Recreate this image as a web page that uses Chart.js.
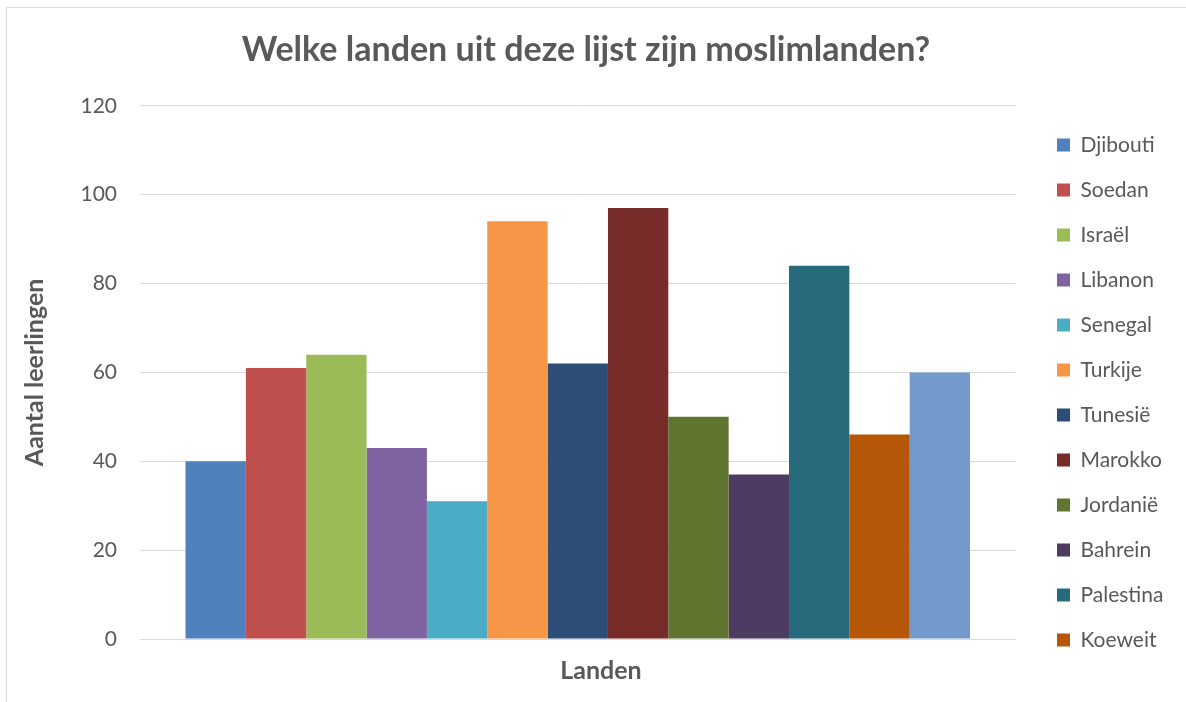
<!DOCTYPE html>
<html>
<head>
<meta charset="utf-8">
<script src="https://cdn.jsdelivr.net/npm/chart.js@4/dist/chart.umd.min.js"></script>
<style>
html,body{margin:0;padding:0;background:#fff;}
#wrap{width:1186px;height:702px;position:relative;}
</style>
</head>
<body>
<div id="wrap"><canvas id="c" width="1186" height="702"></canvas></div>
<script>
const titleText = 'Welke landen uit deze lijst zijn moslimlanden?';
const categories = [''];
const seriesNames = ['Djibouti','Soedan','Israël','Libanon','Senegal','Turkije','Tunesië','Marokko','Jordanië','Bahrein','Palestina','Koeweit',''];
const seriesValues = [40, 61, 64, 43, 31, 94, 62, 97, 50, 37, 84, 46, 60];
const seriesColors = ['#4F81BD','#C0504D','#9BBB59','#8064A2','#4BACC6','#F79646','#2C4D75','#772C2A','#5F7530','#4D3B62','#276A7C','#B65708','#729ACA'];
const yTicks = [0, 20, 40, 60, 80, 100, 120];
const yTitle = 'Aantal leerlingen';
const xTitle = 'Landen';
const legendCount = 12;

const FONT = 'Lato, "Open Sans", sans-serif';
const TXT = '#595959';

const datasets = seriesNames.map((n, i) => ({
  label: n,
  data: [seriesValues[i]],
  backgroundColor: seriesColors[i],
  borderWidth: 0,
  barPercentage: 1,
  categoryPercentage: 0.896
}));

const borderPlugin = {
  id: 'frame',
  beforeDraw(chart) {
    const ctx = chart.ctx;
    ctx.save();
    ctx.fillStyle = '#fff';
    ctx.fillRect(0, 0, chart.width, chart.height);
    ctx.strokeStyle = '#D9D9D9';
    ctx.lineWidth = 1;
    ctx.beginPath();
    ctx.moveTo(6.5, 702);
    ctx.lineTo(6.5, 7.5);
    ctx.lineTo(1186, 7.5);
    ctx.stroke();
    ctx.restore();
  }
};

// place the legend column where the reference has it
const legendPlace = {
  id: 'legendPlace',
  afterLayout(chart) {
    const lg = chart.legend;
    if (!lg) return;
    const w = lg.right - lg.left;
    lg.left = 1033;
    lg.right = lg.left + w;
    lg.top = 110.5;
    lg.bottom = 702;
    lg.height = lg.bottom - lg.top;
  }
};

// x-axis title, centred where the reference puts it
const xTitlePlugin = {
  id: 'xTitle',
  afterDraw(chart) {
    const ctx = chart.ctx;
    ctx.save();
    ctx.fillStyle = TXT;
    ctx.font = 'bold 25px ' + FONT;
    ctx.textAlign = 'center';
    ctx.textBaseline = 'middle';
    ctx.fillText(xTitle, 601, 671);
    ctx.restore();
  }
};

new Chart(document.getElementById('c'), {
  type: 'bar',
  data: { labels: categories, datasets },
  plugins: [borderPlugin, legendPlace, xTitlePlugin],
  options: {
    responsive: false,
    animation: false,
    layout: { padding: { left: 16, right: 30, top: 18, bottom: 8 } },
    plugins: {
      tooltip: { enabled: false },
      title: {
        display: true,
        text: titleText,
        color: TXT,
        font: { family: FONT, size: 34, weight: 'bold' },
        padding: { top: 12, bottom: 35 }
      },
      legend: {
        position: 'right',
        align: 'start',
        labels: {
          color: TXT,
          font: { family: FONT, size: 21 },
          boxWidth: 13,
          boxHeight: 13,
          padding: 24,
          filter: (item) => item.datasetIndex < legendCount
        }
      }
    },
    scales: {
      x: {
        grid: { display: false, drawTicks: false },
        border: { display: false },
        ticks: { display: false },
        title: { display: false },
        afterFit(s) { s.height = 702 - 639 - 8; }
      },
      y: {
        min: 0, max: 120,
        afterBuildTicks(s) { s.ticks = yTicks.map(v => ({ value: v })); },
        grid: { color: '#D9D9D9', lineWidth: 1, drawTicks: false },
        border: { display: false },
        ticks: {
          color: TXT,
          font: { family: FONT, size: 21 },
          padding: 23
        },
        title: {
          display: true,
          text: yTitle,
          color: TXT,
          font: { family: FONT, size: 25, weight: 'bold' },
          padding: { top: 4, bottom: 4 }
        },
        afterFit(s) { s.width = 140 - 16; }
      }
    }
  }
});
</script>
</body>
</html>
